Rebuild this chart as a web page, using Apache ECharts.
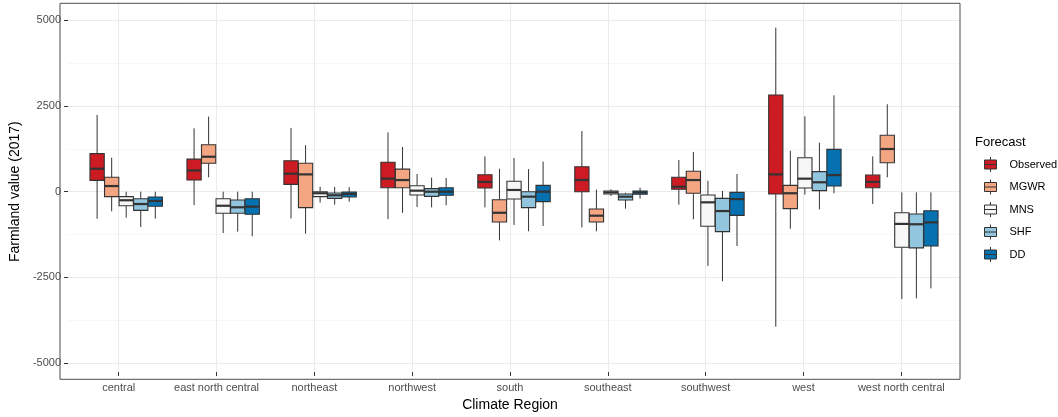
<!DOCTYPE html>
<html>
<head>
<meta charset="utf-8">
<script src="https://cdn.jsdelivr.net/npm/echarts@6/dist/echarts.min.js"></script>
<style>
  html, body { margin: 0; padding: 0; background: #fff; }
  #chart { width: 1058px; height: 417px; }
</style>
</head>
<body>
<div id="chart"></div>
<script>
  // climate regions on the x axis
  var regions = ["central", "east north central", "northeast", "northwest", "south",
                 "southeast", "southwest", "west", "west north central"];
  var forecasts = ["Observed", "MGWR", "MNS", "SHF", "DD"];
  var yTicks = [-5000, -2500, 0, 2500, 5000];

  // each row: [lower whisker, Q1, median, Q3, upper whisker]
  var observed = [
    [-790, 330, 670, 1110, 2240],
    [-390, 340, 620, 950, 1850],
    [-780, 215, 525, 905, 1860],
    [-800, 115, 380, 860, 1730],
    [-455, 110, 285, 495, 1030],
    [-1040, 0, 340, 730, 1770],
    [-380, 70, 145, 420, 925],
    [-3940, -65, 505, 2820, 4785],
    [-360, 115, 285, 485, 1030]
  ];
  var mgwr = [
    [-570, -145, 165, 420, 990],
    [420, 830, 1020, 1370, 2190],
    [-1225, -465, 505, 830, 1355],
    [-615, 115, 340, 660, 1305],
    [-1420, -885, -615, -235, 670],
    [-1155, -885, -700, -505, 60],
    [-805, -45, 340, 595, 1160],
    [-1080, -495, -45, 185, 1195],
    [420, 845, 1245, 1645, 2550]
  ];
  var mns = [
    [-760, -410, -250, -145, 0],
    [-1205, -630, -410, -205, 0],
    [-320, -145, -45, 0, 145],
    [-445, -95, 30, 175, 515],
    [-970, -215, 50, 305, 985],
    [-125, -65, -20, 20, 70],
    [-2165, -1010, -310, -95, 320],
    [-85, 110, 380, 990, 2200],
    [-3130, -1620, -940, -615, -20]
  ];
  var shf = [
    [-1030, -545, -360, -205, 0],
    [-1165, -630, -455, -240, 0],
    [-380, -195, -105, -40, 135],
    [-455, -135, 0, 90, 410],
    [-1155, -465, -145, 0, 660],
    [-495, -240, -145, -65, -30],
    [-2615, -1165, -565, -195, 20],
    [-515, 30, 275, 585, 1430],
    [-3110, -1640, -950, -650, -20]
  ];
  var dd = [
    [-785, -425, -270, -155, 0],
    [-1300, -660, -435, -205, 0],
    [-290, -155, -65, -10, 135],
    [-395, -105, 0, 115, 400],
    [-1000, -290, 0, 185, 875],
    [-205, -75, -20, 20, 115],
    [-1585, -690, -215, -20, 515],
    [-45, 165, 485, 1235, 2810],
    [-2820, -1585, -895, -555, -20]
  ];

  var seriesData = [observed, mgwr, mns, shf, dd];
  var colors = ["#CD1B24", "#F4A582", "#F7F7F7", "#92C5DE", "#0571B0"];
  var dodge = 0.15;
  var lineCol = "#333333";

  // panel geometry (ggplot panel)
  var panelL = 60, panelR = 960, panelT = 3.3, panelB = 379.3;
  var unit = (panelR - panelL) / 9.2;
  var y5000 = 20.3, yNeg5000 = 363.1;

  var chart = echarts.init(document.getElementById('chart'));

  function makeSeries(k) {
    var data = seriesData[k].map(function (r, i) {
      return [i + 1, r[0], r[1], r[2], r[3], r[4]];
    });
    return {
      name: forecasts[k],
      type: 'custom',
      xAxisIndex: 0,
      yAxisIndex: 0,
      itemStyle: { color: colors[k], borderColor: lineCol },
      encode: { x: 0, y: [1, 2, 3, 4, 5] },
      data: data,
      z: 5,
      renderItem: function (params, api) {
        var x = api.value(0) + (k - 2) * dodge;
        var pMin = api.coord([x, api.value(1)]);
        var pQ1 = api.coord([x, api.value(2)]);
        var pMed = api.coord([x, api.value(3)]);
        var pQ3 = api.coord([x, api.value(4)]);
        var pMax = api.coord([x, api.value(5)]);
        var w = api.size([dodge * 0.98, 0])[0];
        var cx = pMed[0];
        var lw = { stroke: lineCol, lineWidth: 1 };
        return {
          type: 'group',
          children: [
            { type: 'line', shape: { x1: cx, y1: pMax[1], x2: cx, y2: pQ3[1] }, style: lw },
            { type: 'line', shape: { x1: cx, y1: pQ1[1], x2: cx, y2: pMin[1] }, style: lw },
            { type: 'rect', shape: { x: cx - w / 2, y: pQ3[1], width: w, height: pQ1[1] - pQ3[1] },
              style: { fill: api.visual('color'), stroke: lineCol, lineWidth: 1.1 } },
            { type: 'line', shape: { x1: cx - w / 2, y1: pMed[1], x2: cx + w / 2, y2: pMed[1] },
              style: { stroke: lineCol, lineWidth: 2.2 } }
          ]
        };
      }
    };
  }

  var series = forecasts.map(function (f, k) { return makeSeries(k); });

  var axisTxt = { color: '#4d4d4d', fontSize: 11, fontFamily: 'Liberation Sans, Arial, sans-serif' };

  chart.setOption({
    animation: false,
    textStyle: { fontFamily: 'Liberation Sans, Arial, sans-serif' },
    grid: [{
      left: panelL, width: panelR - panelL, top: y5000, height: yNeg5000 - y5000,
      containLabel: false
    }, {
      left: panelL + 0.6 * unit, width: 8 * unit, top: panelT, height: panelB - panelT,
      containLabel: false
    }],
    xAxis: [{
      gridIndex: 0, type: 'value', min: 0.4, max: 9.6, show: false
    }, {
      gridIndex: 1, type: 'category', data: regions, boundaryGap: false,
      axisLine: { show: false },
      axisTick: { show: true, length: 4, lineStyle: { color: lineCol } },
      axisLabel: Object.assign({ margin: 10, interval: 0 }, axisTxt),
      splitLine: { show: true, lineStyle: { color: '#ebebeb', width: 1 } },
      name: 'Climate Region', nameLocation: 'middle', nameGap: 22,
      nameTextStyle: { color: '#000', fontSize: 14 }
    }],
    yAxis: [{
      gridIndex: 0, type: 'value', min: -5000, max: 5000, interval: 2500,
      axisLine: { show: false },
      axisTick: { show: true, length: 4, lineStyle: { color: lineCol } },
      axisLabel: Object.assign({ margin: 7, formatter: function (v) { return String(v); } }, axisTxt),
      splitLine: { show: true, lineStyle: { color: '#ebebeb', width: 1 } },
      minorTick: { show: false, splitNumber: 2 },
      minorSplitLine: { show: true, lineStyle: { color: '#f2f2f2', width: 0.6 } },
      name: 'Farmland value (2017)', nameLocation: 'middle', nameGap: 38,
      nameTextStyle: { color: '#000', fontSize: 14 }
    }, {
      gridIndex: 1, type: 'value', min: 0, max: 1, show: false
    }],
    legend: {
      orient: 'vertical', left: 979, top: 151.5,
      itemWidth: 24, itemHeight: 15, itemGap: 6.5,
      icon: 'path://M0,3H12V12H0Z M0,7.5H12 M6,0V3 M6,12V15',
      itemStyle: { borderColor: lineCol, borderWidth: 1 },
      textStyle: { color: '#000', fontSize: 11, padding: [0, 0, 0, 2] },
      data: forecasts
    },
    graphic: [{
      type: 'rect', silent: true, z: 100,
      shape: { x: panelL, y: panelT, width: panelR - panelL, height: panelB - panelT },
      style: { fill: 'none', stroke: '#4d4d4d', lineWidth: 1 }
    }, {
      type: 'text', left: 975, top: 136, z: 100,
      style: { text: 'Forecast', fill: '#000', fontSize: 13, fontFamily: 'Liberation Sans, Arial, sans-serif' }
    }],
    series: series
  });
</script>
</body>
</html>
